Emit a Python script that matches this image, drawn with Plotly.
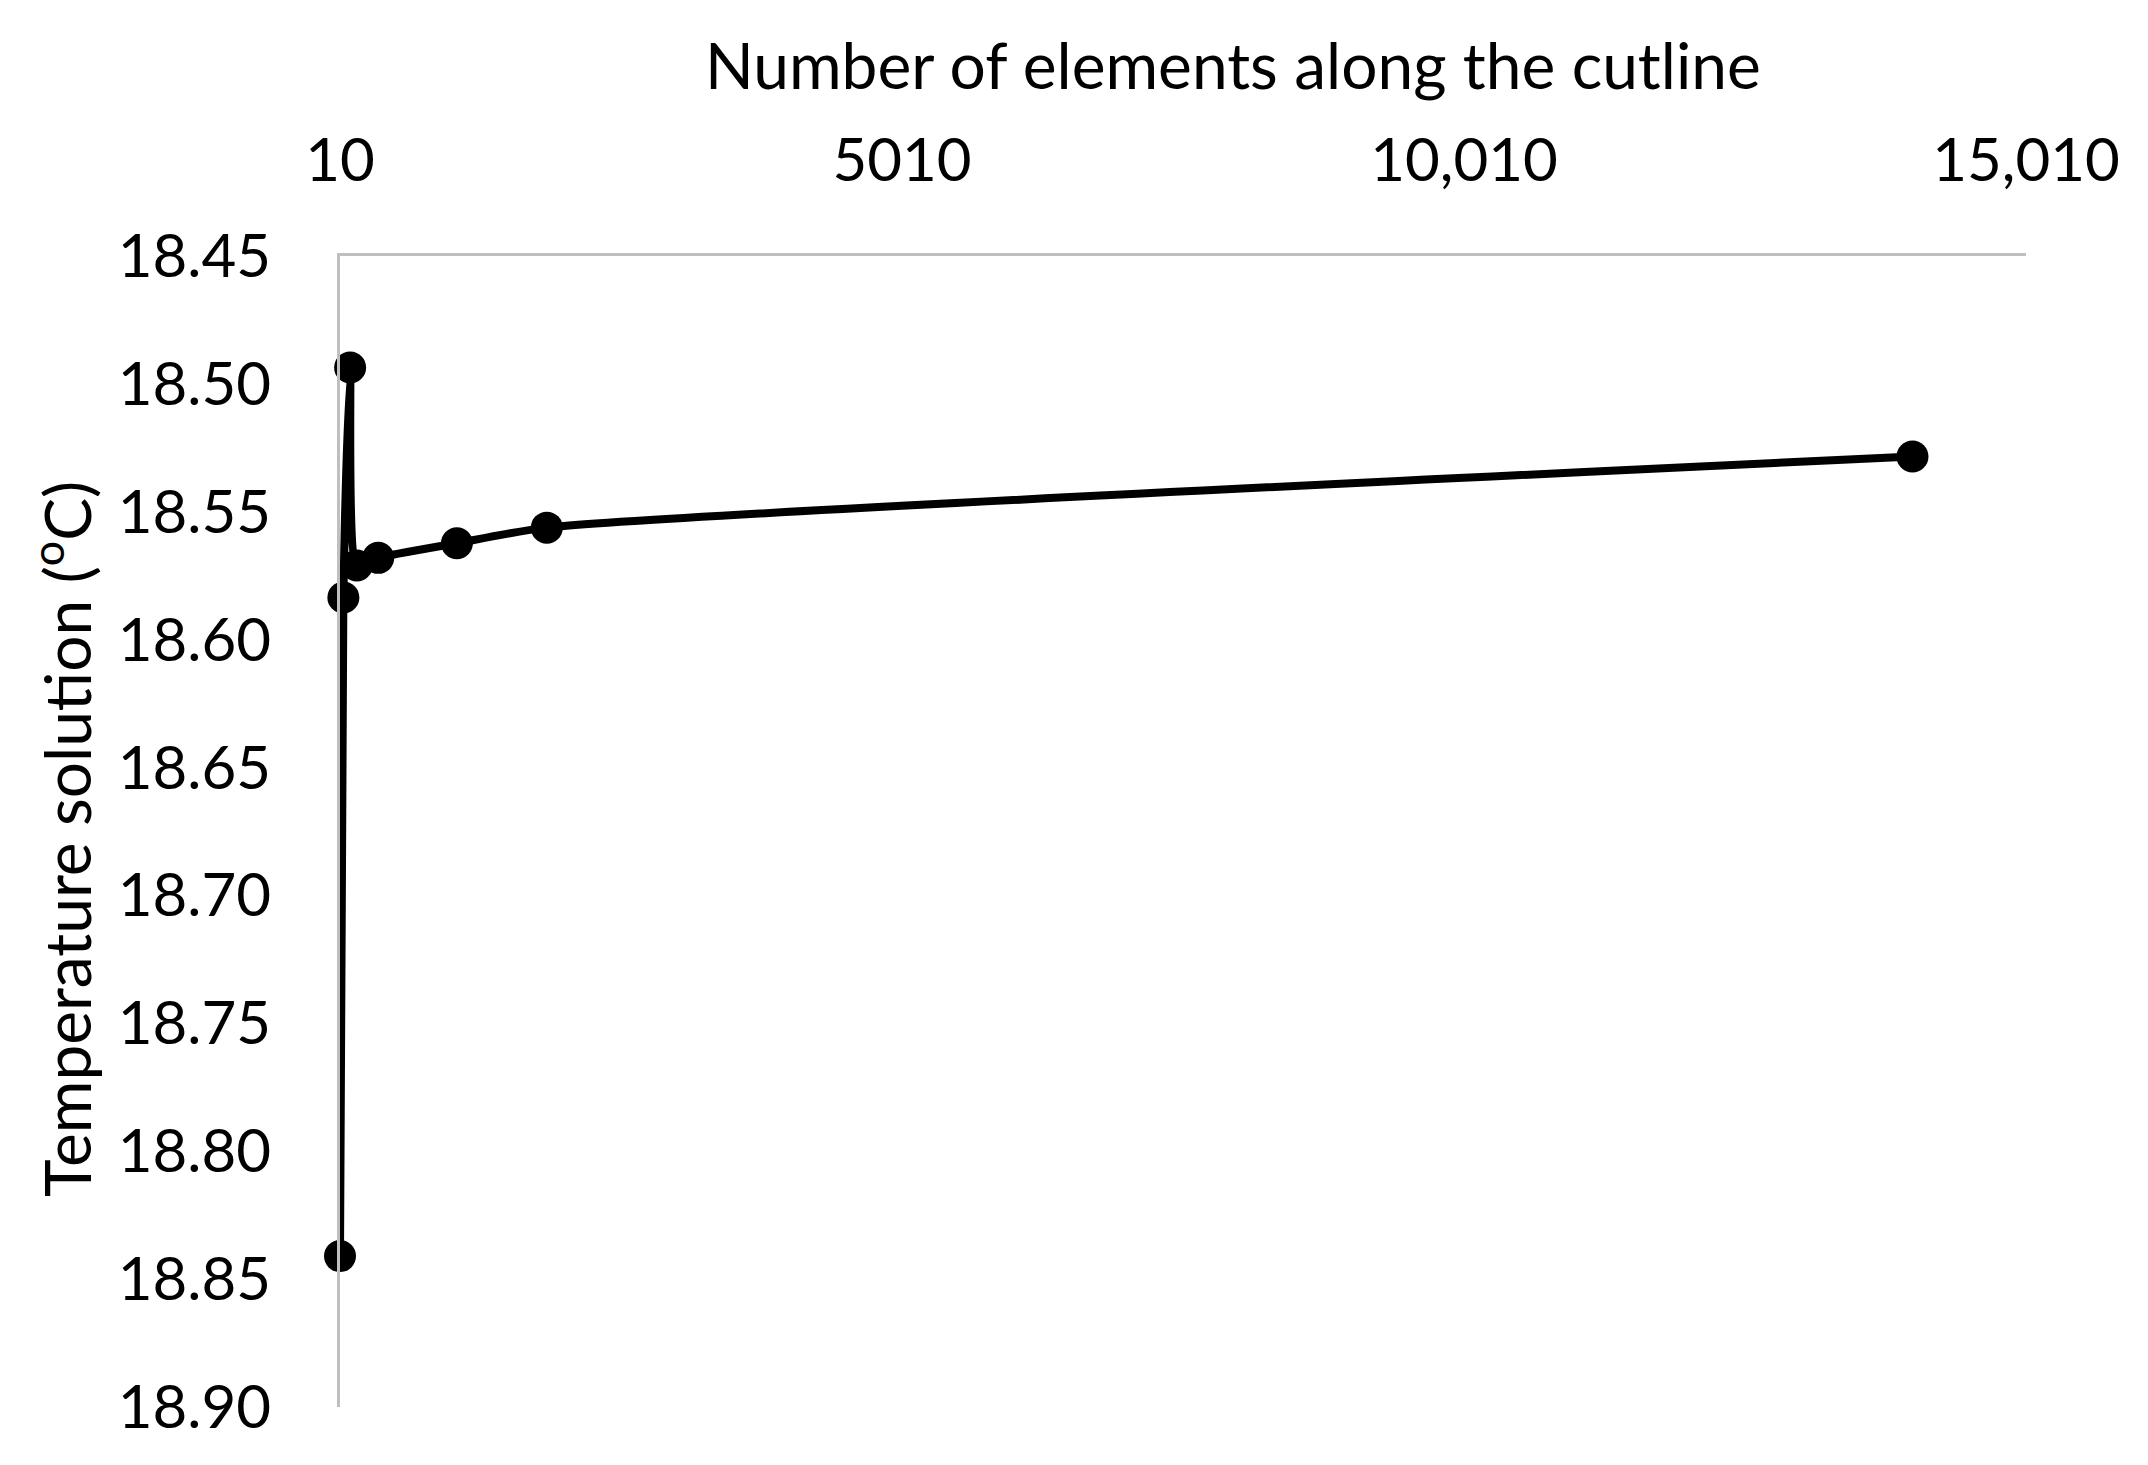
import plotly.graph_objects as go

# Data
elements = [10, 40, 100, 160, 350, 1050, 1850, 14000]
temperature = [18.841, 18.5835, 18.4936, 18.571, 18.568, 18.5623, 18.5562, 18.5284]

x_tickvals = [10, 5010, 10010, 15010]
x_ticktext = ["10", "5010", "10,010", "15,010"]
y_tickvals = [18.45, 18.50, 18.55, 18.60, 18.65, 18.70, 18.75, 18.80, 18.85, 18.90]

FONT = "Lato"
W, H = 2148, 1465
OFFX, OFFY = 8, 5  # page offset
# target plot-area edges in screenshot pixels
L, R, T, B = 340, 2026, 253, 1404

fig = go.Figure()
fig.add_trace(go.Scatter(
    x=elements, y=temperature,
    mode="lines+markers",
    line=dict(color="black", width=8, shape="spline", smoothing=0.6),
    marker=dict(color="black", size=32),
    showlegend=False,
    cliponaxis=False,
))

fig.update_layout(
    width=W, height=H,
    margin=dict(l=L - OFFX, r=W - R + OFFX, t=T - OFFY, b=H - B + OFFY),
    paper_bgcolor="white", plot_bgcolor="white",
    font=dict(family=FONT, color="black", size=60),
    xaxis=dict(
        side="top", range=[10, 15010],
        tickvals=x_tickvals, ticktext=x_ticktext,
        showgrid=False, zeroline=False,
        showline=True, linecolor="#BFBFBF", linewidth=3,
        ticks="", ticklabelstandoff=48,
        tickfont=dict(family=FONT, size=60),
    ),
    yaxis=dict(
        range=[18.90, 18.45],
        tickvals=y_tickvals, tickformat=".2f",
        showgrid=False, zeroline=False,
        showline=True, linecolor="#BFBFBF", linewidth=3,
        ticks="", ticklabelstandoff=54,
        tickfont=dict(family=FONT, size=60),
    ),
    annotations=[
        dict(text="Number of elements along the cutline", xref="paper", yref="paper",
             x=(1233 - L) / (R - L), y=1 + (T - 62) / (B - T),
             xanchor="center", yanchor="middle", showarrow=False,
             font=dict(family=FONT, size=64)),
        dict(text="Temperature solution (<sup>o</sup>C)", xref="paper", yref="paper",
             x=(62 - L) / (R - L), y=1 - (836 - T) / (B - T),
             xanchor="center", yanchor="middle", showarrow=False, textangle=-90,
             font=dict(family=FONT, size=64)),
    ],
)

fig.write_html("out.html")
